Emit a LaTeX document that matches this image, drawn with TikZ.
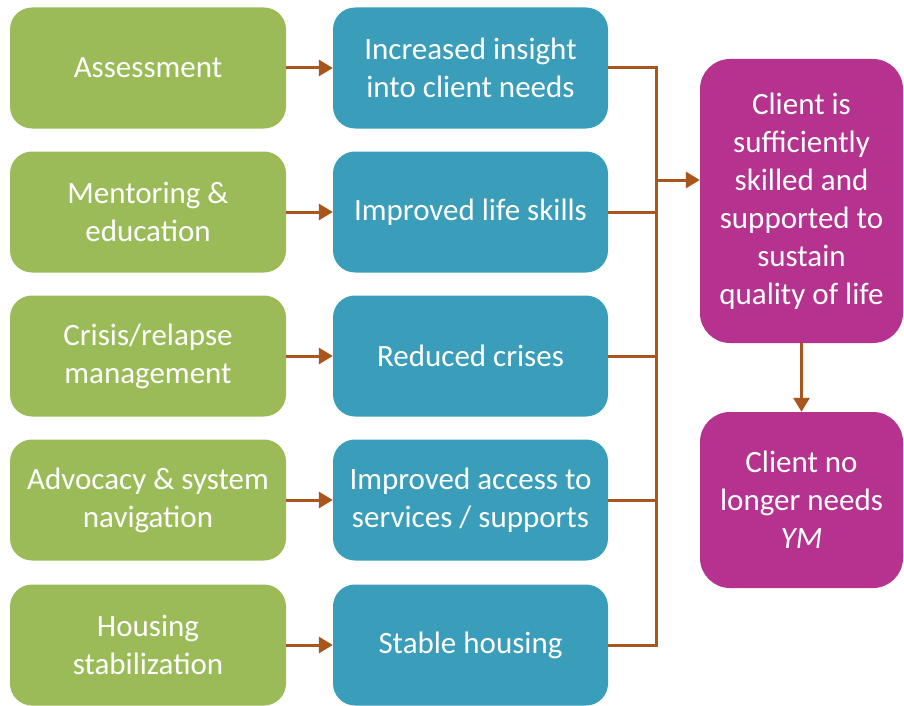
\documentclass[tikz,border=0pt]{standalone}
\usepackage{fontspec}
\setmainfont{Carlito}
\usetikzlibrary{arrows.meta}
\definecolor{actgreen}{HTML}{9BBB59}
\definecolor{outblue}{HTML}{3A9DB9}
\definecolor{goalpink}{HTML}{B5338E}
\definecolor{linkbrown}{HTML}{A8561C}
\tikzset{
  boxbase/.style={rounded corners=22pt, text=white, align=center,
    font=\fontsize{31}{38}\selectfont, inner sep=0pt},
  actbox/.style={boxbase, fill=actgreen, minimum width=276pt, minimum height=121pt},
  outbox/.style={boxbase, fill=outblue, minimum width=275pt, minimum height=121pt},
  goalbox/.style={boxbase, fill=goalpink, rounded corners=30pt, minimum width=203pt},
  link/.style={draw=linkbrown, line width=3pt},
  linkarrow/.style={link, -{Triangle[length=14pt,width=16pt]}}
}
\begin{document}
\begin{tikzpicture}[x=1pt,y=-1pt]
\useasboundingbox (0,0) rectangle (904,706);

% activities
\node[actbox] (a1) at (148,68)  {Assessment};
\node[actbox] (a2) at (148,212) {Mentoring \&\\education};
\node[actbox] (a3) at (148,356) {Crisis/relapse\\management};
\node[actbox] (a4) at (148,500) {Advocacy \& system\\navigation};
\node[actbox] (a5) at (148,645) {Housing\\stabilization};

% short-term outcomes
\node[outbox] (o1) at (470.5,68)  {Increased insight\\into client needs};
\node[outbox] (o2) at (470.5,212) {Improved life skills};
\node[outbox] (o3) at (470.5,356) {Reduced crises};
\node[outbox] (o4) at (470.5,500) {Improved access to\\services / supports};
\node[outbox] (o5) at (470.5,645) {Stable housing};

% longer-term outcomes
\node[goalbox, minimum height=284pt] (g1) at (801.5,201) {Client is\\sufficiently\\skilled and\\supported to\\sustain\\quality of life};
\node[goalbox, minimum height=176pt] (g2) at (801.5,500) {Client no\\longer needs\\\textit{YM}};

% activity -> outcome
\foreach \i in {1,...,5} {
  \draw[linkarrow] (a\i.east) -- (o\i.west);
}

% collecting bus
\coordinate (bus) at (656,180);
\draw[link, line join=miter] (o1.east) -| (bus |- o5.east) -- (o5.east);
\foreach \i in {2,3,4} {
  \draw[link] (o\i.east) -- (bus |- o\i.east);
}
\draw[linkarrow] (bus) -- (g1.west |- bus);

\draw[linkarrow] (g1.south) -- (g2.north);
\end{tikzpicture}
\end{document}
